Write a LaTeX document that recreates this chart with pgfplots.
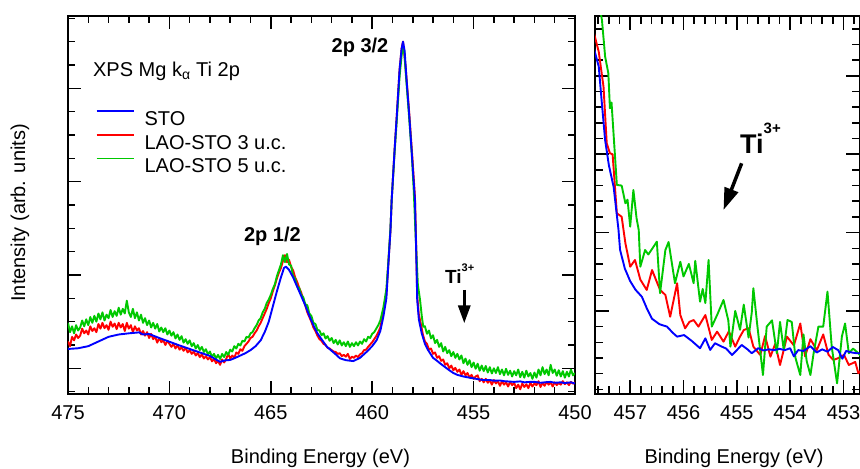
\documentclass[border=0pt]{standalone}
\usepackage{fontspec}
\setmainfont{Liberation Sans}
\usepackage{pgfplots}
\pgfplotsset{compat=1.18}
\usetikzlibrary{arrows.meta}
\definecolor{cblue}{RGB}{0,0,255}
\definecolor{cred}{RGB}{255,0,0}
\definecolor{cgreen}{RGB}{0,200,0}
\newcommand{\tw}{\fontsize{20bp}{24bp}\selectfont}
\pgfplotsset{
  common/.style={
    scale only axis, height=378bp,
    x dir=reverse,
    axis line style={line width=1.6bp},
    tick style={black, line width=1.5bp},
    major tick style={black, line width=1.5bp},
    minor tick style={black, line width=1.5bp},
    tick align=inside, tick pos=both,
    xticklabel pos=lower,
    font=\tw,
    tick label style={font=\tw},
    label style={font=\tw},
    xticklabel style={yshift=-8bp},
    /pgf/number format/assume math mode=true,
    /pgf/number format/set thousands separator={},
    yticklabels={},
    every axis plot/.append style={line width=1.9bp, line join=round},
    xlabel={Binding Energy (eV)},
  }
}
\begin{document}
\begin{tikzpicture}
\useasboundingbox (0,0) rectangle (860bp,469bp);
\clip (0,0) rectangle (860bp,469bp);
% ---------------- left panel ----------------
\begin{axis}[common, at={(68bp,75bp)}, anchor=south west, width=507bp,
  xmin=450, xmax=475, ymin=-1.1, ymax=15.1,
  major tick length=13bp, minor tick length=7bp,
  xtick={450,455,...,475}, minor xtick={451,...,474},
  ytick={0,4,8,12}, minor ytick={-1,1,2,3,5,6,7,9,10,11,13,14,15},
  ylabel={Intensity (arb. units)},
  every axis y label/.style={at={(axis description cs:-0.0947,0.479)},rotate=90,anchor=center},
  every axis x label/.style={at={(axis description cs:0.498,-0.169)},anchor=center},
  legend style={draw=none, fill=none, at={(axis description cs:0.0546,0.7519)}, anchor=north west,
    inner sep=0bp, outer sep=0bp, row sep=8.5bp, column sep=9.4bp, font=\tw,
    nodes={inner sep=0bp, text height=14.5bp, text depth=0bp}},
  legend cell align=left,
  legend image code/.code={\draw[#1, line width=1.9bp] (0bp,7.2bp) -- (37.6bp,7.2bp);},
]
\addlegendimage{cblue}
\addlegendentry{STO}
\addlegendimage{cred}
\addlegendentry{LAO-STO 3 u.c.}
\addlegendimage{cgreen}
\addlegendentry{LAO-STO 5 u.c.}
% red
\addplot[cred, forget plot] coordinates {
(475.0,1.15) (474.9,0.95) (474.8,1.35) (474.7,1.20) (474.6,1.45) (474.5,1.30) (474.4,1.40) (474.3,1.70) (474.2,1.50) (474.1,1.62) (474.0,1.45) (473.9,1.80) (473.8,1.60) (473.7,1.72) (473.6,1.55)
(473.5,1.90) (473.4,1.70) (473.3,1.95) (473.2,1.72) (473.1,1.85) (473.0,1.65) (472.9,2.00) (472.8,1.78) (472.7,1.92) (472.6,1.68) (472.5,1.95) (472.4,1.75) (472.3,1.90) (472.2,1.60) (472.1,1.95) (472.0,1.70)
(471.9,1.85) (471.8,1.55) (471.7,1.80) (471.6,1.62) (471.5,1.72) (471.4,1.45) (471.3,1.60) (471.2,1.40) (471.1,1.55) (471.0,1.30) (470.9,1.48) (470.8,1.25) (470.7,1.35) (470.6,1.10) (470.5,1.30) (470.4,1.12)
(470.3,1.20) (470.2,1.00) (470.1,1.18) (470.0,1.05) (469.9,0.92) (469.8,1.05) (469.7,0.85) (469.6,1.00) (469.5,0.80) (469.4,0.90) (469.3,0.75) (469.2,0.88) (469.1,0.68) (469.0,0.78) (468.9,0.62) (468.8,0.72)
(468.7,0.55) (468.6,0.66) (468.5,0.48) (468.4,0.60) (468.3,0.42) (468.2,0.52) (468.1,0.38) (468.0,0.48) (467.9,0.30) (467.8,0.40) (467.7,0.22) (467.6,0.32) (467.5,0.15) (467.4,0.38) (467.3,0.25) (467.2,0.40)
(467.1,0.62) (467.0,0.42) (466.9,0.55) (466.8,0.45) (466.7,0.68) (466.6,0.62) (466.5,0.82) (466.4,0.75) (466.3,0.95) (466.2,1.05) (466.1,1.15) (466.0,1.30) (465.9,1.35) (465.8,1.50) (465.7,1.62) (465.6,1.80)
(465.5,1.95) (465.4,2.15) (465.3,2.35) (465.2,2.55) (465.1,2.80) (465.0,3.00) (464.9,3.30) (464.8,3.55) (464.7,3.85) (464.6,4.10) (464.5,4.30) (464.4,4.60) (464.3,4.85) (464.2,4.55) (464.1,4.65) (464.0,4.35)
(463.9,4.20) (463.8,3.90) (463.7,3.70) (463.6,3.45) (463.5,3.25) (463.4,2.95) (463.3,2.70) (463.2,2.40) (463.1,2.20) (463.0,2.00) (462.9,1.75) (462.8,1.60) (462.7,1.40) (462.6,1.25) (462.5,1.18) (462.4,1.05)
(462.3,1.00) (462.2,0.88) (462.1,0.85) (462.0,0.78) (461.9,0.72) (461.8,0.70) (461.7,0.62) (461.6,0.65) (461.5,0.52) (461.4,0.58) (461.3,0.50) (461.2,0.62) (461.1,0.40) (461.0,0.50) (460.9,0.45) (460.8,0.55)
(460.7,0.48) (460.6,0.60) (460.5,0.65) (460.4,0.78) (460.3,0.80) (460.2,0.92) (460.1,1.02) (460.0,1.12) (459.9,1.25) (459.8,1.38) (459.7,1.55) (459.6,1.75) (459.45,2.40)
(459.3,3.2) (459.21,4.4) (459.1,5.9) (459.04,7.2) (458.9,9.3) (458.79,10.8) (458.65,12.8) (458.55,13.7)
(458.48,14.0) (458.35,12.9) (458.17,10.9) (458.0,8.8) (457.89,7.3) (457.83,5.2) (457.78,3.1) (457.7,2.3)
(457.6,1.9) (457.5,1.45) (457.4,1.15) (457.3,1.05) (457.2,0.80) (457.1,0.85) (457.0,0.62) (456.9,0.68)
(456.8,0.45) (456.7,0.52) (456.6,0.32) (456.5,0.38) (456.4,0.15) (456.3,0.22) (456.2,0.00) (456.1,0.12)
(456.0,-0.08) (455.9,0.02) (455.8,-0.15) (455.7,-0.05) (455.6,-0.28) (455.5,-0.12) (455.4,-0.30) (455.3,-0.20) (455.2,-0.40) (455.1,-0.28) (455.0,-0.45) (454.9,-0.35) (454.8,-0.30) (454.7,-0.55) (454.6,-0.45)
(454.5,-0.60) (454.4,-0.45) (454.3,-0.62) (454.2,-0.50) (454.1,-0.70) (454.0,-0.50) (453.9,-0.65) (453.8,-0.55) (453.7,-0.75) (453.6,-0.55) (453.5,-0.70) (453.4,-0.60) (453.3,-0.78) (453.2,-0.58) (453.1,-0.72) (453.0,-0.62)
(452.9,-0.85) (452.8,-0.70) (452.7,-0.90) (452.6,-0.65) (452.5,-0.80) (452.4,-0.68) (452.3,-0.85) (452.2,-0.62) (452.1,-0.78) (452.0,-0.65) (451.9,-0.72) (451.8,-0.55) (451.7,-0.80) (451.6,-0.62) (451.5,-0.75)
(451.4,-0.58) (451.3,-0.70) (451.2,-0.60) (451.1,-0.78) (451.0,-0.60) (450.9,-0.72) (450.8,-0.62) (450.7,-0.70) (450.6,-0.55) (450.5,-0.68) (450.4,-0.60) (450.3,-0.72) (450.2,-0.58) (450.1,-0.66) (450.0,-0.60)
};
% green
\addplot[cgreen, forget plot] coordinates {
(475.0,1.95) (474.9,1.55) (474.8,1.80) (474.7,1.50) (474.6,1.85) (474.5,1.62) (474.4,1.75) (474.3,2.05) (474.2,1.80) (474.1,2.10) (474.0,1.85) (473.9,2.20) (473.8,1.95) (473.7,2.25) (473.6,2.00)
(473.5,2.35) (473.4,2.10) (473.3,2.40) (473.2,2.05) (473.1,2.30) (473.0,2.15) (472.9,2.50) (472.8,2.20) (472.7,2.45) (472.6,2.25) (472.5,2.60) (472.4,2.30) (472.3,2.55) (472.2,2.35) (472.1,2.90) (472.0,2.40)
(471.9,2.20) (471.8,2.55) (471.7,2.15) (471.6,2.40) (471.5,2.05) (471.4,2.30) (471.3,1.95) (471.2,2.15) (471.1,1.85) (471.0,2.05) (470.9,1.75) (470.8,1.95) (470.7,1.70) (470.6,1.90) (470.5,1.58) (470.4,1.75)
(470.3,1.55) (470.2,1.72) (470.1,1.45) (470.0,1.62) (469.9,1.40) (469.8,1.55) (469.7,1.28) (469.6,1.45) (469.5,1.22) (469.4,1.38) (469.3,1.10) (469.2,1.25) (469.1,1.05) (469.0,1.20) (468.9,0.95) (468.8,1.08)
(468.7,0.85) (468.6,1.00) (468.5,0.78) (468.4,0.92) (468.3,0.70) (468.2,0.82) (468.1,0.60) (468.0,0.72) (467.9,0.48) (467.8,0.62) (467.7,0.42) (467.6,0.58) (467.5,0.40) (467.4,0.62) (467.3,0.48) (467.2,0.70)
(467.1,0.58) (467.0,0.80) (466.9,0.72) (466.8,0.95) (466.7,0.85) (466.6,1.05) (466.5,0.98) (466.4,1.18) (466.3,1.15) (466.2,1.35) (466.1,1.32) (466.0,1.50) (465.9,1.55) (465.8,1.72) (465.7,1.85) (465.6,2.05)
(465.5,2.15) (465.4,2.40) (465.3,2.55) (465.2,2.80) (465.1,2.95) (465.0,3.15) (464.9,3.40) (464.8,3.60) (464.7,3.95) (464.6,4.20) (464.5,4.45) (464.4,4.85) (464.3,4.55) (464.2,4.90) (464.1,4.45) (464.0,4.40)
(463.9,3.95) (463.8,3.85) (463.7,3.50) (463.6,3.45) (463.5,3.15) (463.4,3.05) (463.3,2.75) (463.2,2.70) (463.1,2.35) (463.0,2.25) (462.9,1.95) (462.8,1.90) (462.7,1.65) (462.6,1.62) (462.5,1.42) (462.4,1.50)
(462.3,1.28) (462.2,1.38) (462.1,1.18) (462.0,1.30) (461.9,1.08) (461.8,1.22) (461.7,1.02) (461.6,1.20) (461.5,0.98) (461.4,1.12) (461.3,0.95) (461.2,1.15) (461.1,0.92) (461.0,1.08) (460.9,0.95) (460.8,1.12)
(460.7,0.98) (460.6,1.15) (460.5,1.05) (460.4,1.25) (460.3,1.15) (460.2,1.35) (460.1,1.30) (460.0,1.48) (459.9,1.55) (459.8,1.70) (459.7,1.85) (459.6,2.05)
(459.45,2.60) (459.3,3.4) (459.21,4.5) (459.1,6.0) (459.04,7.2) (458.9,9.2) (458.79,10.6) (458.65,12.5)
(458.55,13.4) (458.48,13.8) (458.42,13.6) (458.35,12.7) (458.2,11.0) (458.05,9.2) (457.95,7.6) (457.85,5.5)
(457.75,3.6) (457.64,2.93) (457.55,2.2) (457.48,1.78) (457.4,1.80) (457.3,1.48) (457.2,1.62) (457.1,1.28)
(457.0,1.42) (456.9,1.08) (456.8,1.22) (456.7,0.92) (456.6,1.08) (456.5,0.72) (456.4,0.92) (456.3,0.65)
(456.2,0.78) (456.1,0.52) (456.0,0.70) (455.9,0.45) (455.8,0.62) (455.7,0.38) (455.6,0.55) (455.5,0.22)
(455.4,0.42) (455.3,0.15) (455.2,0.35) (455.1,0.05) (455.0,0.25) (454.9,-0.02) (454.8,0.20) (454.7,-0.10)
(454.6,0.12) (454.5,-0.12) (454.4,0.10) (454.3,-0.18) (454.2,0.05) (454.1,-0.22) (454.0,0.00) (453.9,-0.20) (453.8,0.05)
(453.7,-0.25) (453.6,-0.05) (453.5,-0.30) (453.4,-0.02) (453.3,-0.28) (453.2,-0.10) (453.1,-0.35) (453.0,-0.12) (452.9,-0.30) (452.8,-0.05) (452.7,-0.38) (452.6,-0.15) (452.5,-0.40) (452.4,-0.10) (452.3,-0.35) (452.2,-0.20)
(452.1,-0.45) (452.0,-0.18) (451.9,-0.40) (451.8,-0.05) (451.7,-0.30) (451.6,0.05) (451.5,-0.25) (451.4,-0.05) (451.3,-0.30) (451.2,0.15) (451.1,-0.20) (451.0,-0.05) (450.9,-0.32) (450.8,-0.08) (450.7,-0.35)
(450.6,-0.12) (450.5,-0.40) (450.4,-0.15) (450.3,-0.35) (450.2,-0.05) (450.1,-0.30) (450.0,-0.20)
};
% blue
\addplot[cblue, forget plot] coordinates {
(475,0.83) (474.5,0.86) (474,0.95) (473.5,1.15) (473,1.35) (472.5,1.45) (472,1.5) (471.5,1.54) (471.3,1.45)
(471,1.47) (470.5,1.3) (470,1.14) (469.5,0.98) (469,0.83) (468.5,0.68) (468,0.53) (467.75,0.40) (467.5,0.28)
(467.25,0.34) (467,0.36) (466.75,0.45) (466.5,0.55) (466.25,0.65) (466,0.78) (465.75,0.95) (465.5,1.2)
(465.3,1.55) (465.1,2.0) (464.9,2.65) (464.7,3.3) (464.5,3.9) (464.35,4.3) (464.25,4.36) (464.1,4.22)
(463.9,3.9) (463.7,3.5) (463.5,3.1) (463.3,2.7) (463.1,2.25) (462.9,1.85) (462.7,1.5) (462.5,1.25)
(462.24,0.93) (462.0,0.75) (461.8,0.6) (461.59,0.43) (461.3,0.35) (460.93,0.31) (460.6,0.45) (460.27,0.71)
(460.0,0.95) (459.78,1.21) (459.6,1.6) (459.45,2.21) (459.3,3.0) (459.21,4.36) (459.1,5.9) (459.04,7.2)
(458.9,9.3) (458.79,10.79) (458.65,12.8) (458.55,13.7) (458.48,14.0) (458.4,13.6) (458.3,12.3) (458.17,10.8)
(458.0,8.6) (457.89,7.2) (457.83,5.0) (457.78,2.93) (457.7,2.1) (457.56,1.51) (457.4,1.05) (457.25,0.79)
(457.0,0.45) (456.8,0.32) (456.66,0.22) (456.4,0.05) (456.2,-0.08) (456.0,-0.2) (455.8,-0.28) (455.5,-0.35)
(455.2,-0.40) (455.0,-0.43) (454.7,-0.48) (454.5,-0.5) (454.2,-0.50) (454.0,-0.53) (453.7,-0.52) (453.5,-0.55)
(453.2,-0.57) (453.0,-0.58) (452.7,-0.56) (452.5,-0.6) (452.2,-0.58) (452.0,-0.58) (451.7,-0.62) (451.5,-0.60)
(451.2,-0.58) (451.0,-0.62) (450.7,-0.60) (450.5,-0.63) (450.2,-0.60) (450.0,-0.65)
};
\node[anchor=base west, inner sep=0pt, font=\tw] at (axis cs:473.77,12.49) {XPS Mg k\textsubscript{α} Ti 2p};
\node[anchor=base, inner sep=0pt, font=\tw\bfseries] at (axis cs:460.6,13.55) {2p 3/2};
\node[anchor=base, inner sep=0pt, font=\tw\bfseries] at (axis cs:464.92,5.42) {2p 1/2};
\node[anchor=base west, inner sep=0pt, font=\fontsize{19bp}{22bp}\selectfont\bfseries] at (axis cs:456.41,3.645)
  {Ti\raisebox{11.6bp}{\fontsize{11bp}{13bp}\selectfont 3+}};
\draw[-{Triangle[length=18bp,width=12bp]}, line width=3.3bp] (axis cs:455.46,3.36) -- (axis cs:455.46,1.93);
\end{axis}
% ---------------- right panel ----------------
\begin{axis}[common, at={(595bp,75bp)}, anchor=south west, width=265bp,
  xmin=452.69, xmax=457.66, ymin=-0.3, ymax=23.82,
  major tick length=14bp, minor tick length=8bp,
  xtick={453,454,455,456,457},
  minor xtick={452.8,453.2,453.4,453.6,453.8,454.2,454.4,454.6,454.8,455.2,455.4,455.6,455.8,456.2,456.4,456.6,456.8,457.2,457.4,457.6},
  ytick={5,10,15,20}, minor ytick={0,...,23},
  every axis x label/.style={at={(axis description cs:0.5245,-0.169)},anchor=center},
]
\addplot[cred] coordinates {
(457.7,23.0) (457.59,21.54) (457.5,19.3) (457.44,15.7) (457.38,15.06) (457.33,15.0) (457.25,11.23) (457.16,11.01)
(457.09,9.32) (457.0,7.82) (456.91,8.25) (456.81,7.0) (456.69,6.34) (456.59,7.61) (456.44,6.34) (456.34,6.02)
(456.25,4.63) (456.12,6.77) (456.06,4.74) (455.97,3.89) (455.89,4.3) (455.81,4.42) (455.72,4.0) (455.59,4.74)
(455.47,3.15) (455.37,3.68) (455.25,3.04) (455.15,3.7) (455.03,2.72) (454.95,3.3) (454.87,3.78) (454.78,3.9)
(454.69,2.72) (454.56,2.19) (454.47,3.4) (454.37,2.08) (454.28,2.9) (454.19,1.55) (454.06,3.36) (453.93,2.8)
(453.81,4.2) (453.72,2.1) (453.62,3.2) (453.5,2.5) (453.38,3.5) (453.28,2.2) (453.19,1.87) (453.09,2.0)
(452.99,2.2) (452.9,1.55) (452.78,1.75) (452.72,1.02) (452.65,1.3)
};
\addplot[cgreen] coordinates {
(457.6,25) (457.53,23.57) (457.47,21.23) (457.41,20.17) (457.38,17.93) (457.35,18.3) (457.25,13.04) (457.16,13.0)
(457.09,11.87) (457.05,12.1) (457.0,10.38) (456.94,12.72) (456.88,10.9) (456.84,10.17) (456.81,7.82) (456.72,8.89)
(456.66,8.6) (456.5,9.42) (456.44,6.13) (456.34,8.89) (456.28,9.4) (456.16,6.77) (456.06,8.14) (456.0,7.2)
(455.9,8.0) (455.81,6.77) (455.78,8.2) (455.69,5.59) (455.64,6.4) (455.59,5.5) (455.53,8.25) (455.47,4.0)
(455.37,4.74) (455.25,5.7) (455.16,4.4) (455.12,2.72) (455.03,5.0) (454.94,3.8) (454.87,5.4) (454.78,3.3)
(454.72,4.9) (454.69,6.45) (454.62,4.2) (454.51,0.91) (454.44,4.0) (454.34,4.4) (454.25,2.3) (454.19,4.3)
(454.12,2.5) (454.05,4.42) (453.97,4.3) (453.9,2.0) (453.81,0.91) (453.75,3.5) (453.69,1.8) (453.62,0.91)
(453.56,2.3) (453.47,4.0) (453.38,4.0) (453.3,6.23) (453.22,2.7) (453.12,0.38) (453.03,3.36) (452.97,4.2)
(452.9,2.3) (452.82,2.6) (452.72,2.3) (452.65,2.0)
};
\addplot[cblue] coordinates {
(457.7,22.0) (457.59,20.6) (457.53,18.2) (457.47,15.9) (457.4,14.3) (457.31,12.9) (457.22,10.2) (457.19,8.9)
(457.1,7.7) (457.0,6.9) (456.9,6.35) (456.78,5.9) (456.68,5.1) (456.59,4.5) (456.45,4.15) (456.31,4.0)
(456.2,3.6) (456.12,3.36) (455.99,3.46) (455.85,3.1) (455.69,2.62) (455.59,3.25) (455.5,2.51) (455.41,2.94)
(455.3,2.75) (455.2,2.6) (455.09,2.19) (455.0,2.5) (454.91,2.83) (454.8,2.55) (454.72,2.3) (454.6,2.62)
(454.5,2.48) (454.4,2.55) (454.3,2.5) (454.2,2.58) (454.1,2.5) (454.0,2.62) (453.93,2.1) (453.85,2.5)
(453.75,2.45) (453.62,2.75) (453.5,2.35) (453.4,2.55) (453.3,2.4) (453.2,2.7) (453.1,2.5) (453.02,1.95)
(452.95,2.45) (452.85,2.35) (452.75,2.3) (452.65,2.3)
};
\node[anchor=base west, inner sep=0pt, font=\fontsize{27bp}{30bp}\selectfont\bfseries] at (axis cs:454.94,15.06)
  {Ti\raisebox{20bp}{\fontsize{15bp}{17bp}\selectfont 3+}};
\draw[-{Triangle[length=22bp,width=14bp]}, line width=3.5bp] (axis cs:454.91,14.42) -- (axis cs:455.25,11.44);
\end{axis}
\end{tikzpicture}
\end{document}
